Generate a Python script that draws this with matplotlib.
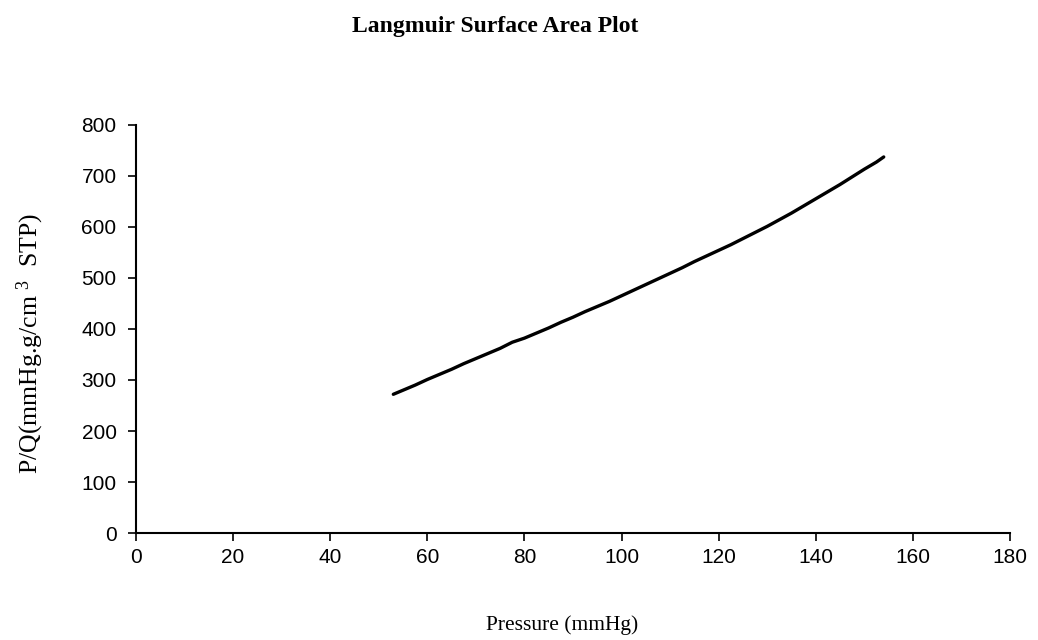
import matplotlib
matplotlib.use("Agg")
import matplotlib.pyplot as plt

plt.rcParams["mathtext.fontset"] = "custom"
plt.rcParams["mathtext.rm"] = "Liberation Serif"
plt.rcParams["mathtext.it"] = "Liberation Serif"

pressure = [53, 55, 57.5, 60, 62.5, 65, 67.5, 70, 72.5, 75, 77.5, 80, 82.5, 85,
            87.5, 90, 92.5, 95, 97.5, 100, 102.5, 105, 107.5, 110, 112.5, 115,
            117.5, 120, 122.5, 125, 127.5, 130, 132.5, 135, 137.5, 140, 142.5,
            145, 147.5, 150, 152.5, 154]
pq = [272, 280, 290, 301, 311, 321, 332, 342, 352, 362, 374, 382, 392, 402,
      413, 423, 434, 444, 454, 465, 476, 487, 498, 509, 520, 532,
      543, 554, 565, 577, 589, 601, 614, 627, 641, 655, 669,
      683, 698, 713, 727, 737]

x_ticks = [0, 20, 40, 60, 80, 100, 120, 140, 160, 180]
y_ticks = [0, 100, 200, 300, 400, 500, 600, 700, 800]

fig = plt.figure(figsize=(10.38, 6.4), dpi=100)
ax = fig.add_axes([0.131, 0.167, 0.842, 0.638])
ax.plot(pressure, pq, color="black", linewidth=2.4, solid_capstyle="round")
ax.set_xlim(0, 180)
ax.set_ylim(0, 800)
ax.set_xticks(x_ticks)
ax.set_yticks(y_ticks)
for s in ["top", "right"]:
    ax.spines[s].set_visible(False)
for s in ["left", "bottom"]:
    ax.spines[s].set_linewidth(1.5)
ax.tick_params(direction="out", length=6, width=1.2, labelsize=15)
ax.tick_params(axis="x", pad=5)
ax.tick_params(axis="y", pad=8)
for lab in ax.get_xticklabels() + ax.get_yticklabels():
    lab.set_family("Liberation Sans")

fig.text(0.477, 0.958, "Langmuir Surface Area Plot", ha="center", va="center",
         family="Liberation Serif", fontweight="bold", fontsize=17)
fig.text(0.542, 0.023, "Pressure (mmHg)", ha="center", va="center",
         family="Liberation Serif", fontsize=15.5)
fig.text(0.029, 0.464, r"P/Q(mmHg.g/cm $^{3}$  STP)", ha="center", va="center",
         rotation=90, family="Liberation Serif", fontsize=18.5)

fig.savefig("out.png", dpi=100, facecolor="white")
